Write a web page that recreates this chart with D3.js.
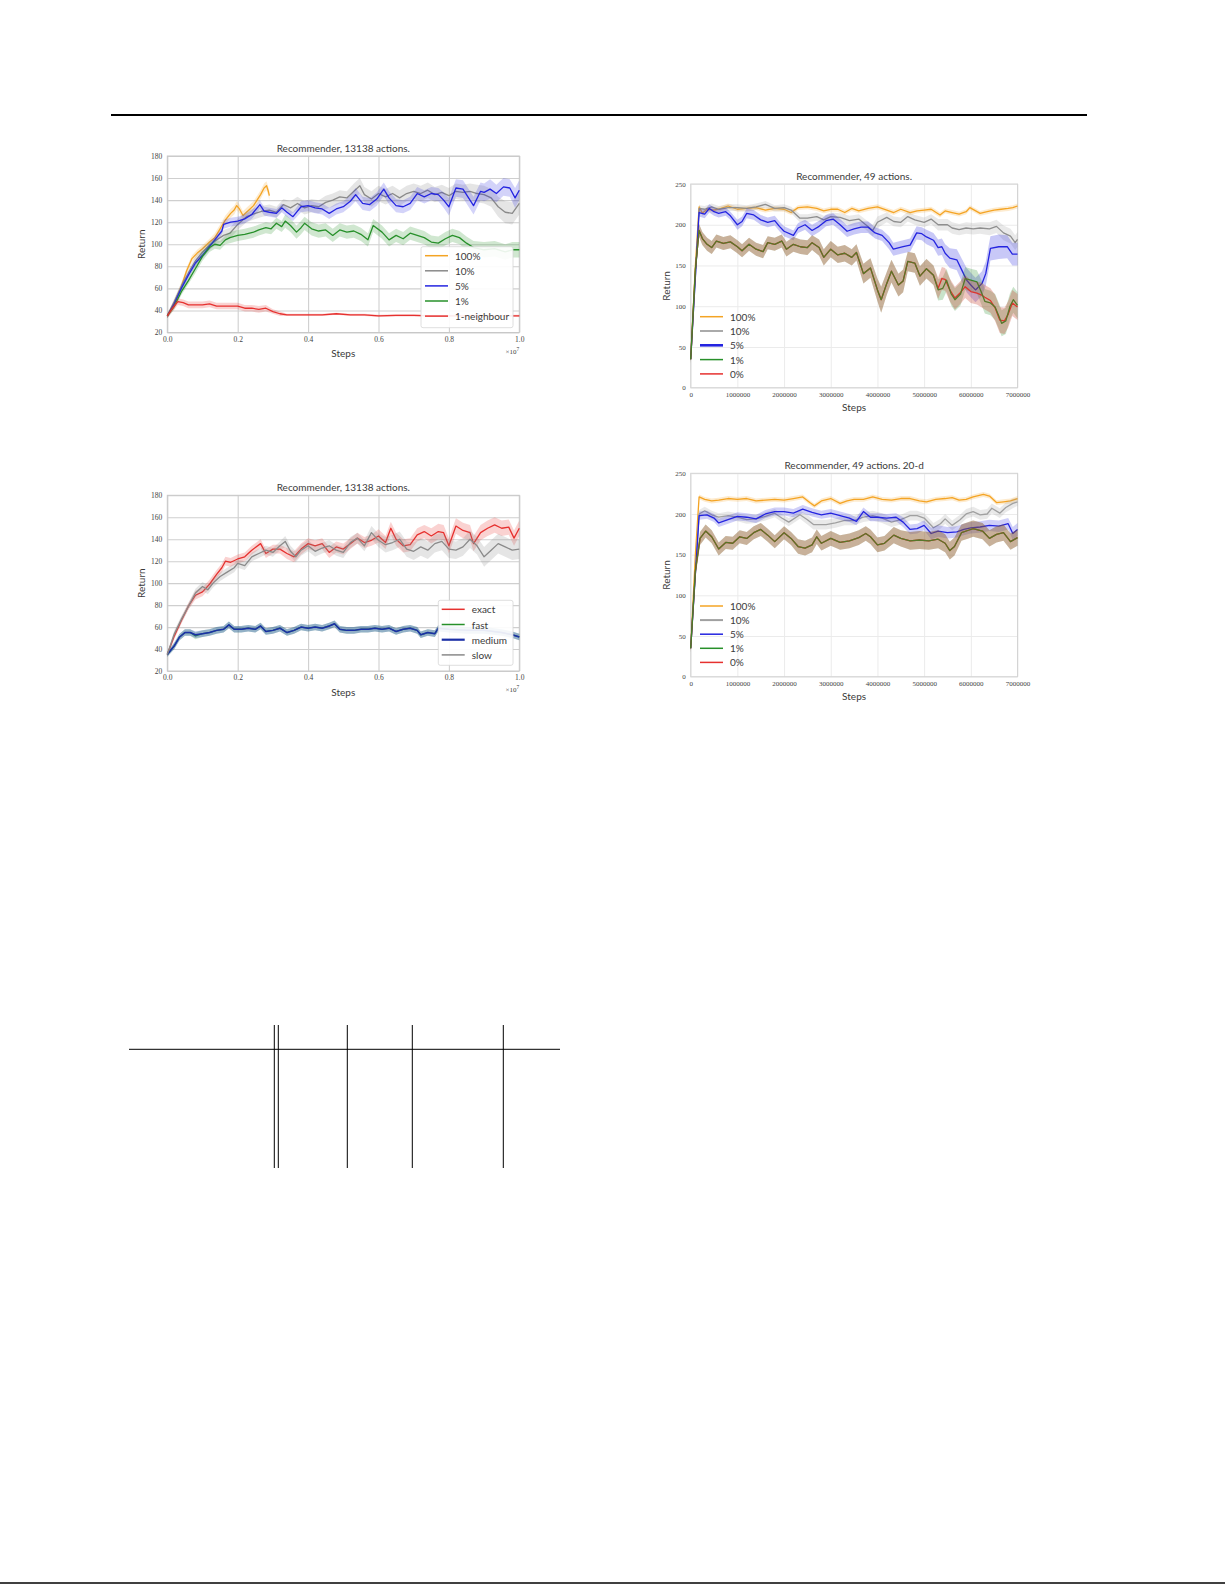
<!DOCTYPE html>
<html>
<head>
<meta charset="utf-8">
<script src="https://cdn.jsdelivr.net/npm/d3@7"></script>
<style>
  body { margin: 0; background: #fff; }
  svg { display: block; }
</style>
</head>
<body>
<div id="page"></div>
<script>
// ---- data: each point is [step, mean return, half width of shaded band] ----
// top-left: steps in units of 1e7
const big100 = [[0,35,2],[0.02,47,3],[0.04,62,3],[0.055,76,3],[0.07,87,3],[0.085,92,3],[0.1,96,3],[0.12,102,3],[0.135,106,4],[0.15,114,4],[0.165,122,4],[0.18,128,4],[0.19,131,4],[0.197,135,4],[0.205,132,4],[0.215,126,4],[0.225,129,4],[0.235,132,4],[0.245,135,4],[0.255,140,4],[0.265,145,4],[0.275,151,4],[0.282,153,4],[0.287,148,4],[0.29,144,4]];
const big10 = [[0,35,2],[0.02,48,3],[0.04,62,3],[0.06,74,3],[0.08,85,4],[0.1,93,4],[0.12,99,4],[0.14,104,4],[0.16,108,5],[0.178,110,5],[0.2,118,5],[0.225,125,5],[0.25,128,5],[0.27,130,5],[0.29,131,5],[0.31,129,5],[0.33,136,5],[0.35,133,6],[0.37,137,6],[0.39,133,6],[0.41,135,6],[0.43,134,6],[0.45,138,6],[0.47,140,6],[0.49,143,6],[0.51,142,6],[0.53,148,7],[0.547,153,7],[0.56,145,7],[0.58,141,7],[0.6,146,7],[0.62,143,7],[0.64,146,7],[0.66,142,7],[0.68,146,7],[0.7,148,7],[0.72,146,7],[0.74,149,7],[0.76,145,7],[0.78,147,7],[0.8,144,7],[0.82,148,7],[0.84,147,7],[0.86,148,7],[0.88,146,8],[0.9,145,8],[0.92,142,8],[0.94,134,9],[0.96,129,10],[0.98,128,10],[1.0,137,10]];
const big5 = [[0,35,2],[0.02,46,3],[0.04,60,3],[0.06,72,3],[0.08,83,3],[0.1,90,3],[0.12,98,3],[0.14,106,3],[0.155,112,3],[0.16,118,4],[0.18,120,4],[0.2,121,4],[0.22,123,4],[0.24,127,4],[0.263,136,4],[0.275,130,4],[0.29,129,4],[0.31,128,4],[0.325,133,4],[0.34,129,4],[0.357,125,4],[0.38,134,5],[0.4,135,5],[0.42,133,5],[0.44,132,5],[0.46,128,5],[0.48,132,5],[0.5,134,5],[0.52,139,5],[0.535,145,6],[0.555,137,6],[0.575,136,6],[0.595,141,6],[0.615,150,6],[0.63,142,6],[0.65,135,6],[0.67,134,6],[0.69,137,6],[0.71,146,6],[0.73,143,6],[0.75,146,6],[0.77,145,6],[0.785,140,7],[0.8,134,8],[0.82,151,8],[0.84,150,8],[0.86,140,8],[0.87,135,8],[0.89,148,8],[0.9,147,8],[0.917,150,9],[0.935,146,8],[0.955,152,8],[0.973,151,8],[0.988,142,9],[1.0,149,9]];
const big1 = [[0,35,2],[0.02,44,3],[0.04,57,3],[0.06,67,3],[0.08,78,4],[0.1,89,4],[0.12,97,4],[0.135,100,4],[0.15,99,4],[0.165,104,4],[0.178,106,5],[0.2,108,5],[0.22,109,5],[0.245,111,5],[0.26,113,5],[0.28,115,5],[0.295,114,5],[0.31,119,5],[0.325,116,5],[0.335,121,6],[0.35,117,6],[0.367,111,6],[0.38,115,6],[0.39,119,6],[0.41,114,6],[0.43,112,6],[0.45,113,6],[0.47,108,6],[0.49,113,6],[0.51,111,6],[0.53,112,6],[0.55,109,6],[0.57,104,6],[0.585,117,6],[0.61,111,6],[0.63,104,6],[0.65,108,6],[0.67,105,6],[0.69,110,6],[0.71,108,6],[0.73,106,6],[0.75,102,6],[0.77,101,6],[0.79,105,6],[0.81,108,6],[0.83,106,6],[0.85,101,6],[0.87,97,6],[0.9,95,7],[0.93,96,7],[0.96,93,7],[0.98,95,7],[1.0,95,7]];
const bigNeighbour = [[0,35,2],[0.015,42,3],[0.03,48,3],[0.045,47,3],[0.06,45,3],[0.08,45,3],[0.1,45,3],[0.12,46,3],[0.14,44,3],[0.16,44,3],[0.18,44,3],[0.2,44,3],[0.22,42,3],[0.24,42,3],[0.26,41,3],[0.28,42,3],[0.3,39,2],[0.32,37,2],[0.34,36,1],[0.36,36,1],[0.4,36,1],[0.44,36,1],[0.48,37,1],[0.52,36,1],[0.56,36,1],[0.6,35,1],[0.65,35.5,1],[0.7,35.5,1],[0.75,35,1],[0.8,35,1],[0.85,35,1],[0.9,35,1],[0.95,35,1],[1.0,35,1]];

// bottom-left: steps in units of 1e7
const knnExact = [[0,35,2],[0.02,52,3],[0.04,66,3],[0.06,79,3],[0.08,89,4],[0.1,92,4],[0.12,99,4],[0.14,108,4],[0.155,114,4],[0.165,120,4],[0.18,119,4],[0.2,122,4],[0.22,124,4],[0.24,130,4],[0.265,136,4],[0.28,127,4],[0.3,131,4],[0.32,131,4],[0.34,127,5],[0.36,124,5],[0.38,131,5],[0.4,136,5],[0.42,134,5],[0.44,136,5],[0.46,128,5],[0.48,133,5],[0.5,131,5],[0.52,136,5],[0.54,141,5],[0.56,137,5],[0.58,139,5],[0.6,143,6],[0.62,137,6],[0.635,150,6],[0.65,140,6],[0.67,134,6],[0.69,135,6],[0.71,144,6],[0.73,147,6],[0.75,143,7],[0.77,147,7],[0.785,146,7],[0.8,134,7],[0.82,152,7],[0.84,148,7],[0.86,146,7],[0.87,136,7],[0.89,146,7],[0.91,150,7],[0.93,153,7],[0.95,150,7],[0.97,151,7],[0.985,141,7],[1.0,150,7]];
const knnFast = [[0,35,2],[0.02,43,3],[0.035,51,3],[0.05,55,3],[0.065,55,3],[0.08,52,3],[0.1,54,3],[0.12,55,3],[0.14,57,3],[0.16,58,3],[0.175,62,3],[0.19,58,3],[0.21,58,3],[0.23,59,3],[0.25,58,3],[0.265,61,3],[0.28,56,3],[0.3,57,3],[0.32,59,3],[0.34,55,3],[0.36,57,3],[0.38,60,3],[0.4,59,3],[0.42,60,3],[0.44,59,3],[0.46,61,3],[0.475,63,3],[0.49,58,3],[0.51,57,3],[0.53,57,3],[0.55,58,3],[0.57,58,3],[0.59,59,3],[0.61,58,3],[0.63,59,3],[0.65,56,3],[0.67,58,3],[0.69,59,3],[0.71,57,3],[0.72,53,3],[0.74,55,3],[0.76,54,3],[0.77,59,3],[0.8,58,3],[0.85,57,3],[0.9,57,3],[0.95,55,3],[0.98,53,3],[1.0,51,3]];
const knnMedium = [[0,35,2],[0.02,43,3],[0.035,51,3],[0.05,55,3],[0.065,55,3],[0.08,53,3],[0.1,54,3],[0.12,55,3],[0.14,57,3],[0.16,58,3],[0.175,62,3],[0.19,58,3],[0.21,58,3],[0.23,59,3],[0.25,58,3],[0.265,61,3],[0.28,56,3],[0.3,57,3],[0.32,59,3],[0.34,55,3],[0.36,57,3],[0.38,60,3],[0.4,59,3],[0.42,60,3],[0.44,59,3],[0.46,61,3],[0.475,63,3],[0.49,58,3],[0.51,57,3],[0.53,57,3],[0.55,58,3],[0.57,58,3],[0.59,59,3],[0.61,58,3],[0.63,59,3],[0.65,56,3],[0.67,58,3],[0.69,59,3],[0.71,57,3],[0.72,53,3],[0.74,55,3],[0.76,54,3],[0.77,59,3],[0.8,58,3],[0.85,57,3],[0.9,57,3],[0.95,55,3],[0.98,53,3],[1.0,51,3]];
const knnSlow = [[0,35,2],[0.02,54,3],[0.04,67,3],[0.06,79,3],[0.08,91,4],[0.1,97,4],[0.115,94,4],[0.13,100,4],[0.15,106,4],[0.17,110,4],[0.19,114,4],[0.2,118,4],[0.22,116,4],[0.24,124,4],[0.26,127,4],[0.28,130,4],[0.3,128,4],[0.32,134,4],[0.335,138,5],[0.35,129,5],[0.365,124,5],[0.38,130,5],[0.4,134,5],[0.42,129,5],[0.44,132,5],[0.46,134,5],[0.48,130,5],[0.5,128,5],[0.52,137,5],[0.54,141,5],[0.56,134,5],[0.58,146,6],[0.6,139,6],[0.62,135,7],[0.64,137,7],[0.66,140,7],[0.68,131,7],[0.7,129,8],[0.72,133,8],[0.74,130,8],[0.76,136,8],[0.78,138,8],[0.8,131,8],[0.82,130,8],[0.84,133,8],[0.86,140,8],[0.88,134,8],[0.9,124,9],[0.92,130,9],[0.94,136,9],[0.96,133,9],[0.98,130,9],[1.0,131,9]];

// top-right: 49 actions, steps in millions
const small100 = [[0,35,3],[0.1,150,4],[0.18,222,3],[0.25,214,3],[0.35,219,3],[0.5,218,3],[0.65,220,3],[0.8,223,3],[1.0,219,3],[1.2,220,3],[1.4,221,3],[1.6,218,3],[1.8,220,3],[2.0,219,3],[2.15,215,3],[2.3,221,3],[2.5,222,3],[2.7,220,3],[2.85,217,3],[3.0,219,3],[3.15,219,3],[3.3,215,3],[3.45,220,3],[3.6,217,3],[3.8,220,3],[4.0,222,3],[4.2,218,3],[4.35,215,3],[4.5,219,3],[4.7,215,3],[4.85,217,3],[5.0,218,3],[5.15,219,3],[5.34,212,3],[5.45,217,3],[5.6,215,3],[5.75,213,3],[5.9,216,3],[5.98,221,3],[6.2,214,3],[6.35,216,3],[6.5,218,3],[6.65,219,3],[6.8,220,3],[6.9,221,3],[7.0,223,3]];
const small10 = [[0,35,3],[0.18,220,4],[0.3,219,4],[0.45,222,4],[0.6,219,4],[0.8,221,4],[1.0,221,4],[1.2,220,4],[1.4,222,4],[1.6,225,4],[1.8,220,4],[2.0,221,4],[2.15,218,4],[2.34,208,5],[2.5,208,5],[2.7,210,5],[2.85,206,5],[3.0,210,5],[3.2,209,5],[3.4,205,6],[3.6,207,6],[3.75,200,6],[3.9,193,7],[4.0,203,7],[4.2,209,6],[4.35,204,6],[4.5,203,6],[4.65,210,6],[4.8,206,6],[5.0,203,6],[5.15,207,6],[5.3,200,7],[5.5,200,7],[5.6,196,7],[5.75,194,7],[5.9,196,7],[6.05,195,7],[6.2,196,7],[6.4,195,8],[6.55,198,8],[6.7,190,9],[6.85,186,9],[6.95,178,9],[7.0,182,9]];
const small5 = [[0,35,3],[0.18,215,5],[0.3,213,5],[0.4,220,5],[0.5,216,5],[0.6,214,5],[0.75,216,5],[0.85,211,5],[1.0,200,6],[1.1,204,6],[1.2,214,6],[1.35,212,6],[1.5,206,6],[1.65,203,6],[1.8,205,6],[1.9,198,6],[2.0,192,6],[2.2,187,6],[2.3,196,6],[2.45,200,6],[2.6,193,7],[2.75,198,7],[2.9,205,7],[3.05,207,7],[3.2,200,7],[3.35,192,7],[3.5,195,7],[3.65,197,7],[3.8,197,7],[3.95,190,7],[4.1,187,7],[4.25,178,8],[4.34,170,8],[4.55,173,8],[4.7,175,8],[4.84,190,8],[4.95,189,8],[5.05,185,9],[5.2,181,9],[5.3,172,10],[5.38,173,10],[5.45,165,11],[5.55,159,12],[5.7,157,13],[5.81,144,14],[5.91,132,15],[6.0,126,15],[6.1,120,15],[6.24,128,15],[6.32,140,15],[6.42,171,15],[6.6,173,15],[6.78,173,14],[6.89,164,14],[7.0,164,14]];
const small1 = [[0,35,5],[0.1,145,8],[0.18,193,8],[0.25,183,8],[0.35,176,8],[0.45,172,8],[0.55,180,8],[0.7,177,8],[0.85,179,8],[1.0,173,8],[1.1,168,8],[1.25,176,8],[1.4,170,8],[1.55,167,8],[1.65,178,8],[1.8,176,8],[1.95,180,8],[2.05,170,9],[2.2,176,9],[2.35,173,9],[2.5,172,9],[2.6,178,9],[2.75,172,10],[2.85,160,10],[3.0,170,10],[3.15,163,10],[3.3,165,10],[3.45,160,10],[3.55,166,10],[3.7,140,12],[3.85,147,12],[4.0,120,14],[4.08,108,16],[4.2,128,14],[4.3,143,14],[4.45,126,14],[4.55,131,14],[4.65,155,12],[4.8,153,12],[4.91,137,12],[5.05,146,12],[5.2,138,12],[5.3,120,13],[5.4,122,14],[5.48,132,14],[5.58,115,14],[5.66,108,14],[5.78,115,14],[5.88,134,14],[6.0,132,14],[6.13,130,14],[6.22,118,15],[6.3,106,15],[6.42,104,15],[6.52,99,16],[6.6,88,16],[6.66,79,16],[6.75,82,16],[6.84,100,16],[6.91,108,16],[7.0,101,16]];
const small0 = [[0,35,5],[0.1,145,8],[0.18,193,8],[0.25,183,8],[0.35,176,8],[0.45,172,8],[0.55,180,8],[0.7,177,8],[0.85,179,8],[1.0,173,8],[1.1,168,8],[1.25,176,8],[1.4,170,8],[1.55,167,8],[1.65,178,8],[1.8,176,8],[1.95,180,8],[2.05,170,9],[2.2,176,9],[2.35,173,9],[2.5,172,9],[2.6,178,9],[2.75,172,10],[2.85,160,10],[3.0,170,10],[3.15,163,10],[3.3,165,10],[3.45,160,10],[3.55,166,10],[3.7,140,12],[3.85,147,12],[4.0,120,14],[4.08,108,16],[4.2,128,14],[4.3,143,14],[4.45,126,14],[4.55,131,14],[4.65,155,12],[4.8,153,12],[4.91,137,12],[5.05,146,12],[5.2,138,12],[5.3,122,13],[5.38,134,14],[5.45,133,14],[5.55,120,14],[5.66,110,14],[5.78,117,14],[5.88,124,14],[6.0,118,14],[6.13,116,14],[6.22,114,15],[6.3,111,15],[6.42,107,15],[6.52,98,16],[6.62,83,16],[6.72,82,16],[6.8,90,16],[6.89,104,16],[7.0,99,16]];

// bottom-right: 49 actions, 20-d, steps in millions
const d20_100 = [[0,35,3],[0.1,150,4],[0.18,221,3],[0.3,218,3],[0.45,216,3],[0.6,217,3],[0.8,219,3],[1.0,218,3],[1.2,219,3],[1.4,216,3],[1.6,217,3],[1.8,218,3],[2.0,217,3],[2.2,219,3],[2.4,221,3],[2.55,214,3],[2.65,210,3],[2.8,216,3],[3.0,219,3],[3.2,213,3],[3.35,216,3],[3.5,218,3],[3.7,218,3],[3.9,221,3],[4.1,218,3],[4.3,217,3],[4.5,219,3],[4.7,219,3],[4.9,216,3],[5.05,215,3],[5.25,218,3],[5.45,219,3],[5.6,220,3],[5.75,217,3],[5.9,218,3],[6.05,221,3],[6.27,224,3],[6.4,222,3],[6.55,214,3],[6.7,215,3],[6.85,216,3],[7.0,219,3]];
const d20_10 = [[0,35,3],[0.18,200,5],[0.3,204,5],[0.45,199,5],[0.6,196,5],[0.8,198,5],[1.0,196,5],[1.2,193,5],[1.4,194,5],[1.6,197,5],[1.8,201,5],[1.95,195,5],[2.1,190,5],[2.34,199,5],[2.5,193,6],[2.63,187,6],[2.9,187,6],[3.1,189,6],[3.3,192,6],[3.5,192,6],[3.7,196,6],[3.9,198,6],[4.1,195,6],[4.3,190,6],[4.5,193,6],[4.7,198,6],[4.85,198,6],[5.0,195,6],[5.2,183,6],[5.35,188,6],[5.45,194,6],[5.6,186,6],[5.77,193,6],[5.9,200,6],[6.05,203,6],[6.2,199,6],[6.35,200,6],[6.45,207,6],[6.62,201,6],[6.75,208,6],[6.9,213,6],[7.0,215,5]];
const d20_5 = [[0,35,3],[0.18,198,5],[0.35,199,5],[0.5,195,5],[0.6,189,5],[0.8,193,5],[1.0,197,5],[1.2,196,5],[1.4,194,5],[1.6,200,5],[1.8,203,5],[2.0,203,5],[2.2,201,5],[2.4,206,5],[2.6,202,5],[2.8,199,5],[3.0,201,5],[3.2,198,5],[3.4,195,5],[3.55,191,5],[3.7,203,5],[3.85,196,5],[4.0,196,5],[4.2,195,5],[4.4,196,5],[4.55,190,6],[4.7,181,6],[4.85,182,6],[5.0,186,6],[5.15,176,7],[5.3,179,7],[5.5,177,7],[5.7,178,7],[5.85,181,7],[6.0,183,7],[6.2,184,7],[6.4,186,7],[6.6,185,7],[6.8,188,7],[6.9,176,8],[7.0,181,8]];
const d20_1 = [[0,35,5],[0.1,130,8],[0.2,170,8],[0.32,179,8],[0.45,172,8],[0.6,157,8],[0.75,165,8],[0.9,164,8],[1.05,172,8],[1.2,170,8],[1.35,177,8],[1.5,181,8],[1.65,174,8],[1.8,166,8],[2.0,177,8],[2.15,170,8],[2.3,160,9],[2.45,158,9],[2.6,162,9],[2.7,172,9],[2.8,164,9],[3.0,170,9],[3.2,165,9],[3.4,167,9],[3.6,171,9],[3.75,176,9],[3.85,172,9],[4.0,162,9],[4.15,164,9],[4.35,174,10],[4.5,170,10],[4.7,167,11],[4.9,168,11],[5.1,167,11],[5.3,169,11],[5.45,164,11],[5.55,155,11],[5.65,160,11],[5.8,177,10],[5.95,180,10],[6.05,182,10],[6.25,179,10],[6.4,170,10],[6.55,175,10],[6.7,177,10],[6.85,166,10],[7.0,171,10]];
const d20_0 = [[0,35,5],[0.1,130,8],[0.2,170,8],[0.32,179,8],[0.45,172,8],[0.6,157,8],[0.75,165,8],[0.9,164,8],[1.05,172,8],[1.2,170,8],[1.35,177,8],[1.5,181,8],[1.65,174,8],[1.8,166,8],[2.0,177,8],[2.15,170,8],[2.3,160,9],[2.45,158,9],[2.6,162,9],[2.7,172,9],[2.8,164,9],[3.0,170,9],[3.2,165,9],[3.4,167,9],[3.6,171,9],[3.75,176,9],[3.85,172,9],[4.0,162,9],[4.15,164,9],[4.35,174,10],[4.5,170,10],[4.7,167,11],[4.9,168,11],[5.1,167,11],[5.3,169,11],[5.45,164,11],[5.55,155,11],[5.65,160,11],[5.8,177,10],[5.95,180,10],[6.05,182,10],[6.25,179,10],[6.4,170,10],[6.55,175,10],[6.7,177,10],[6.85,166,10],[7.0,171,10]];

// tick labels
const bigXTicks = [0, 0.2, 0.4, 0.6, 0.8, 1.0];
const bigYTicks = [20, 40, 60, 80, 100, 120, 140, 160, 180];
const smallXTicks = [0, 1, 2, 3, 4, 5, 6, 7];
const smallYTicks = [0, 50, 100, 150, 200, 250];

// legend names
const pctNames = ["100%", "10%", "5%", "1%"];
const knnNames = ["exact", "fast", "medium", "slow"];

const C = { orange: "#f4a424", grey: "#8a8a8a", blue: "#2424e0", green: "#27902a", red: "#e6312f", navy: "#1b2fa6" };

const W = 1225, H = 1585;
const svg = d3.select("#page").append("svg").attr("width", W).attr("height", H);

const SANS = "Lato, 'Open Sans', sans-serif";
const SERIF = "'Liberation Serif', 'DejaVu Serif', serif";
const INK = "#3a3a3a";

function drawPanel(cfg) {
  const g = svg.append("g");
  const x = d3.scaleLinear().domain(cfg.xDomain).range([cfg.left, cfg.right]);
  const y = d3.scaleLinear().domain(cfg.yDomain).range([cfg.bottom, cfg.top]);
  const ph = cfg.bottom - cfg.top, pw = cfg.right - cfg.left;

  // grid lines via axes
  const gx = g.append("g").attr("transform", `translate(0,${cfg.bottom})`)
    .call(d3.axisBottom(x).tickValues(cfg.xTicks).tickSize(-ph).tickFormat(""));
  const gy = g.append("g").attr("transform", `translate(${cfg.left},0)`)
    .call(d3.axisLeft(y).tickValues(cfg.yTicks).tickSize(-pw).tickFormat(""));
  [gx, gy].forEach(a => {
    a.select(".domain").remove();
    a.selectAll("line").attr("stroke", cfg.gridColor).attr("stroke-width", cfg.gridWidth);
  });

  // frame
  g.append("rect").attr("x", cfg.left).attr("y", cfg.top).attr("width", pw).attr("height", ph)
    .attr("fill", "none").attr("stroke", cfg.frameColor).attr("stroke-width", 1);

  // tick labels
  const lx = g.append("g").attr("transform", `translate(0,${cfg.bottom})`)
    .call(d3.axisBottom(x).tickValues(cfg.xTicks).tickSize(0).tickPadding(4).tickFormat(cfg.xFmt));
  const ly = g.append("g").attr("transform", `translate(${cfg.left},0)`)
    .call(d3.axisLeft(y).tickValues(cfg.yTicks).tickSize(0).tickPadding(5).tickFormat(d3.format("d")));
  [lx, ly].forEach(a => {
    a.select(".domain").remove();
    a.selectAll("text").attr("font-family", SERIF).attr("font-size", cfg.tickSize).attr("fill", "#444");
  });

  const area = d3.area().x(d => x(d[0])).y0(d => y(d[1] - d[2])).y1(d => y(d[1] + d[2]));
  const line = d3.line().x(d => x(d[0])).y(d => y(d[1]));

  cfg.layers.forEach(l => {
    if (l.kind === "band") {
      g.append("path").datum(l.data).attr("d", area).attr("fill", l.color).attr("fill-opacity", l.opacity || 0.22);
    } else {
      g.append("path").datum(l.data).attr("d", line).attr("fill", "none")
        .attr("stroke", l.color).attr("stroke-width", l.width || 1.3).attr("stroke-opacity", l.opacity || 1)
        .attr("stroke-linejoin", "round");
    }
  });

  // title and axis labels
  g.append("text").attr("x", (cfg.left + cfg.right) / 2).attr("y", cfg.top - 4)
    .attr("text-anchor", "middle").attr("font-family", SANS).attr("font-size", 10).attr("fill", INK)
    .text(cfg.title);
  g.append("text").attr("x", (cfg.left + cfg.right) / 2).attr("y", cfg.stepsY)
    .attr("text-anchor", "middle").attr("dominant-baseline", "central")
    .attr("font-family", SANS).attr("font-size", 10).attr("fill", INK).text("Steps");
  g.append("text").attr("transform", `translate(${cfg.returnX},${(cfg.top + cfg.bottom) / 2}) rotate(-90)`)
    .attr("text-anchor", "middle").attr("dominant-baseline", "central")
    .attr("font-family", SANS).attr("font-size", 10).attr("fill", INK).text("Return");

  if (cfg.expo) {
    const t = g.append("text").attr("x", cfg.right).attr("y", cfg.bottom + 21)
      .attr("text-anchor", "end").attr("font-family", SERIF).attr("font-size", 7).attr("fill", "#444");
    t.append("tspan").text("×10");
    t.append("tspan").attr("dy", -3).attr("font-size", 5.5).text("7");
  }

  // legend
  const lg = cfg.legend;
  if (lg.box) {
    g.append("rect").attr("x", lg.box[0]).attr("y", lg.box[1]).attr("width", lg.box[2]).attr("height", lg.box[3])
      .attr("rx", 2).attr("fill", "#fff").attr("fill-opacity", 0.9).attr("stroke", "#d6d6d6").attr("stroke-width", 0.8);
  }
  const items = g.selectAll(null).data(lg.items).join("g")
    .attr("transform", (d, i) => `translate(0,${lg.y0 + i * lg.dy})`);
  items.append("line").attr("x1", lg.x).attr("x2", lg.x + 23).attr("y1", 0).attr("y2", 0)
    .attr("stroke", d => d.color).attr("stroke-width", d => d.width || 1.5);
  items.append("text").attr("x", lg.x + 30).attr("y", 0).attr("dominant-baseline", "central")
    .attr("font-family", SANS).attr("font-size", 10).attr("fill", INK).text(d => d.name);
}

const bigFmt = d3.format(".1f");
const smallFmt = d => d === 0 ? "0" : String(d * 1000000);

// top-left
drawPanel({
  left: 167.3, right: 519.3, top: 156, bottom: 332.5,
  xDomain: [0, 1], yDomain: [20, 180], xTicks: bigXTicks, yTicks: bigYTicks, xFmt: bigFmt,
  gridColor: "#cfcfcf", gridWidth: 1.1, frameColor: "#c8c8c8", tickSize: 7.5,
  title: "Recommender, 13138 actions.", stepsY: 353, returnX: 141, expo: true,
  layers: [
    { kind: "band", data: big100, color: C.orange }, { kind: "line", data: big100, color: C.orange },
    { kind: "band", data: big10, color: C.grey }, { kind: "line", data: big10, color: C.grey },
    { kind: "band", data: big5, color: C.blue, opacity: 0.2 }, { kind: "line", data: big5, color: C.blue },
    { kind: "band", data: big1, color: C.green }, { kind: "line", data: big1, color: C.green },
    { kind: "band", data: bigNeighbour, color: C.red }, { kind: "line", data: bigNeighbour, color: C.red }
  ],
  legend: {
    box: [421, 246.7, 92, 81], x: 425, y0: 255.7, dy: 15.1,
    items: [
      { name: pctNames[0], color: C.orange }, { name: pctNames[1], color: C.grey },
      { name: pctNames[2], color: C.blue }, { name: pctNames[3], color: C.green },
      { name: "1-neighbour", color: C.red }
    ]
  }
});

// bottom-left
drawPanel({
  left: 167.3, right: 519.3, top: 495.3, bottom: 671,
  xDomain: [0, 1], yDomain: [20, 180], xTicks: bigXTicks, yTicks: bigYTicks, xFmt: bigFmt,
  gridColor: "#cfcfcf", gridWidth: 1.1, frameColor: "#c8c8c8", tickSize: 7.5,
  title: "Recommender, 13138 actions.", stepsY: 692, returnX: 141, expo: true,
  layers: [
    { kind: "band", data: knnExact, color: C.red }, { kind: "line", data: knnExact, color: C.red },
    { kind: "band", data: knnFast, color: C.green, opacity: 0.25 }, { kind: "line", data: knnFast, color: C.green },
    { kind: "band", data: knnMedium, color: "#2a4fc0", opacity: 0.35 }, { kind: "line", data: knnMedium, color: C.navy, width: 1.5 },
    { kind: "band", data: knnSlow, color: C.grey }, { kind: "line", data: knnSlow, color: C.grey }
  ],
  legend: {
    box: [438.3, 600.3, 74.7, 65], x: 441.7, y0: 609.3, dy: 15.2,
    items: [
      { name: knnNames[0], color: C.red }, { name: knnNames[1], color: C.green },
      { name: knnNames[2], color: C.navy, width: 2.2 }, { name: knnNames[3], color: C.grey }
    ]
  }
});

// top-right
drawPanel({
  left: 690.7, right: 1017.5, top: 184, bottom: 387.7,
  xDomain: [0, 7], yDomain: [0, 250], xTicks: smallXTicks, yTicks: smallYTicks, xFmt: smallFmt,
  gridColor: "#ebebeb", gridWidth: 1, frameColor: "#d4d4d4", tickSize: 7,
  title: "Recommender, 49 actions.", stepsY: 406.7, returnX: 666, expo: false,
  layers: [
    { kind: "band", data: small100, color: C.orange }, { kind: "line", data: small100, color: C.orange },
    { kind: "band", data: small10, color: "#9a9a9a" }, { kind: "line", data: small10, color: "#8e8e8e" },
    { kind: "band", data: small5, color: C.blue, opacity: 0.25 }, { kind: "line", data: small5, color: C.blue },
    { kind: "band", data: small1, color: C.green, opacity: 0.25 },
    { kind: "line", data: small0, color: C.red }, { kind: "line", data: small1, color: C.green },
    { kind: "band", data: small0, color: "#c8402a", opacity: 0.3 }
  ],
  legend: {
    x: 700, y0: 316.7, dy: 14.3,
    items: [
      { name: pctNames[0], color: C.orange }, { name: pctNames[1], color: "#8e8e8e" },
      { name: pctNames[2], color: C.blue, width: 2.6 }, { name: pctNames[3], color: C.green },
      { name: "0%", color: C.red }
    ]
  }
});

// bottom-right
drawPanel({
  left: 690.7, right: 1017.5, top: 473.3, bottom: 676.7,
  xDomain: [0, 7], yDomain: [0, 250], xTicks: smallXTicks, yTicks: smallYTicks, xFmt: smallFmt,
  gridColor: "#ebebeb", gridWidth: 1, frameColor: "#d4d4d4", tickSize: 7,
  title: "Recommender, 49 actions. 20-d", stepsY: 695.7, returnX: 666, expo: false,
  layers: [
    { kind: "band", data: d20_100, color: C.orange }, { kind: "line", data: d20_100, color: C.orange },
    { kind: "band", data: d20_10, color: "#9a9a9a" }, { kind: "line", data: d20_10, color: "#a0a0a0" },
    { kind: "band", data: d20_5, color: C.blue, opacity: 0.22 }, { kind: "line", data: d20_5, color: C.blue },
    { kind: "band", data: d20_1, color: C.green, opacity: 0.25 },
    { kind: "line", data: d20_0, color: C.red }, { kind: "line", data: d20_1, color: C.green },
    { kind: "band", data: d20_0, color: "#c8402a", opacity: 0.3 }
  ],
  legend: {
    x: 700, y0: 606, dy: 14.1,
    items: [
      { name: pctNames[0], color: C.orange }, { name: pctNames[1], color: "#a0a0a0", width: 2 },
      { name: pctNames[2], color: C.blue }, { name: pctNames[3], color: C.green },
      { name: "0%", color: C.red }
    ]
  }
});

// page rules and the empty table outline
svg.append("line").attr("x1", 111).attr("x2", 1087).attr("y1", 115).attr("y2", 115)
  .attr("stroke", "#000").attr("stroke-width", 2);
svg.append("line").attr("x1", 0).attr("x2", W).attr("y1", 1583).attr("y2", 1583)
  .attr("stroke", "#000").attr("stroke-width", 1.5);

const tableCols = [274.3, 278.3, 347.3, 412.3, 503.3];
svg.append("line").attr("x1", 129).attr("x2", 560).attr("y1", 1049.3).attr("y2", 1049.3)
  .attr("stroke", "#000").attr("stroke-width", 1);
svg.selectAll(".tcol").data(tableCols).join("line").attr("class", "tcol")
  .attr("x1", d => d).attr("x2", d => d).attr("y1", 1025).attr("y2", 1168)
  .attr("stroke", "#000").attr("stroke-width", 1);
</script>
</body>
</html>
